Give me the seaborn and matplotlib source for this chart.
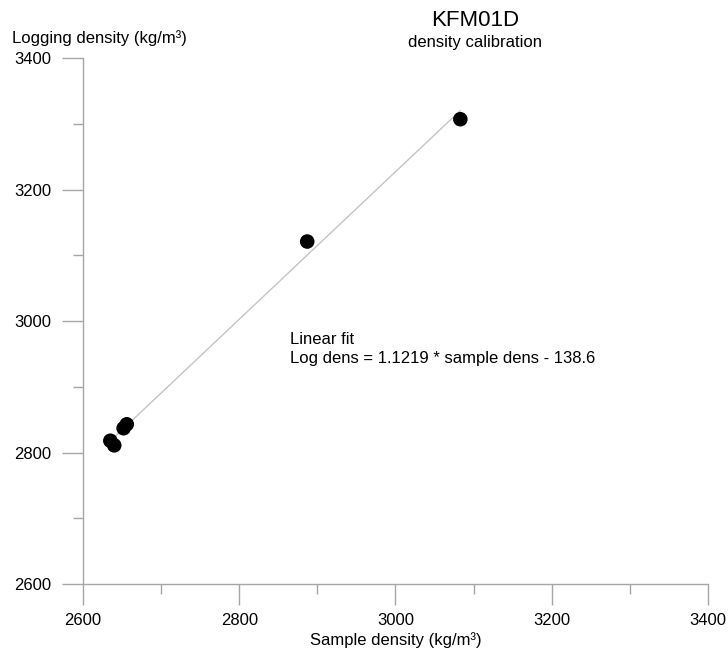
import numpy as np
import pandas as pd
import matplotlib
matplotlib.use("Agg")
import matplotlib.pyplot as plt
import seaborn as sns
from matplotlib.ticker import MultipleLocator

sns.set_style("white")
plt.rcParams['font.family'] = ['Liberation Sans', 'DejaVu Sans']
plt.rcParams['text.color'] = 'black'
plt.rcParams['axes.labelcolor'] = 'black'

# sample vs logging density (kg/m3)
sample_dens = [2635, 2640, 2652, 2656, 2887, 3083]
logging_dens = [2818, 2811, 2837, 2843, 3121, 3307]

# linear fit reported on the chart
fit_slope = 1.1219
fit_intercept = -138.6

df = pd.DataFrame({'sample': sample_dens, 'logging': logging_dens})
fit_x = np.array([df['sample'].min(), df['sample'].max()])
fit_df = pd.DataFrame({'sample': fit_x, 'logging': fit_slope * fit_x + fit_intercept})

axis_grey = '#a6a6a6'

fig = plt.figure(figsize=(7.28, 6.57), dpi=100)
ax = fig.add_axes([0.114, 0.111, 0.8585, 0.8006])

sns.lineplot(data=fit_df, x='sample', y='logging', ax=ax, color='#c4c4c4',
             linewidth=1.0, zorder=2)
sns.scatterplot(data=df, x='sample', y='logging', ax=ax, color='black',
                s=110, edgecolor='none', zorder=3)

ax.set_xlim(2600, 3400)
ax.set_ylim(2600, 3400)
ax.xaxis.set_major_locator(MultipleLocator(200))
ax.xaxis.set_minor_locator(MultipleLocator(100))
ax.yaxis.set_major_locator(MultipleLocator(200))
ax.yaxis.set_minor_locator(MultipleLocator(100))

for side in ['top', 'right']:
    ax.spines[side].set_visible(False)
for side in ['left', 'bottom']:
    ax.spines[side].set_color(axis_grey)
    ax.spines[side].set_linewidth(1.0)

ax.tick_params(which='major', direction='out', length=15, width=1.0,
               color=axis_grey, labelcolor='black', labelsize=12, pad=6,
               bottom=True, left=True)
ax.tick_params(which='minor', direction='out', length=7.5, width=1.0,
               color=axis_grey, bottom=True, left=True)
ax.tick_params(axis='y', which='major', pad=8)

ax.set_xlabel('Sample density (kg/m³)', fontsize=12, labelpad=3)
ax.set_ylabel('')

fig.text(12 / 728, 1 - 43 / 657, 'Logging density (kg/m³)', fontsize=12,
         ha='left', va='baseline')
fig.text(475 / 728, 1 - 21 / 657, 'KFM01D', fontsize=16, ha='center', va='center')
fig.text(475 / 728, 1 - 42 / 657, 'density calibration', fontsize=12,
         ha='center', va='center')

ax.text(0.331, 0.447, 'Linear fit\nLog dens = 1.1219 * sample dens - 138.6',
        transform=ax.transAxes, fontsize=12, ha='left', va='center',
        linespacing=1.3)

fig.savefig('out.png', dpi=100)
